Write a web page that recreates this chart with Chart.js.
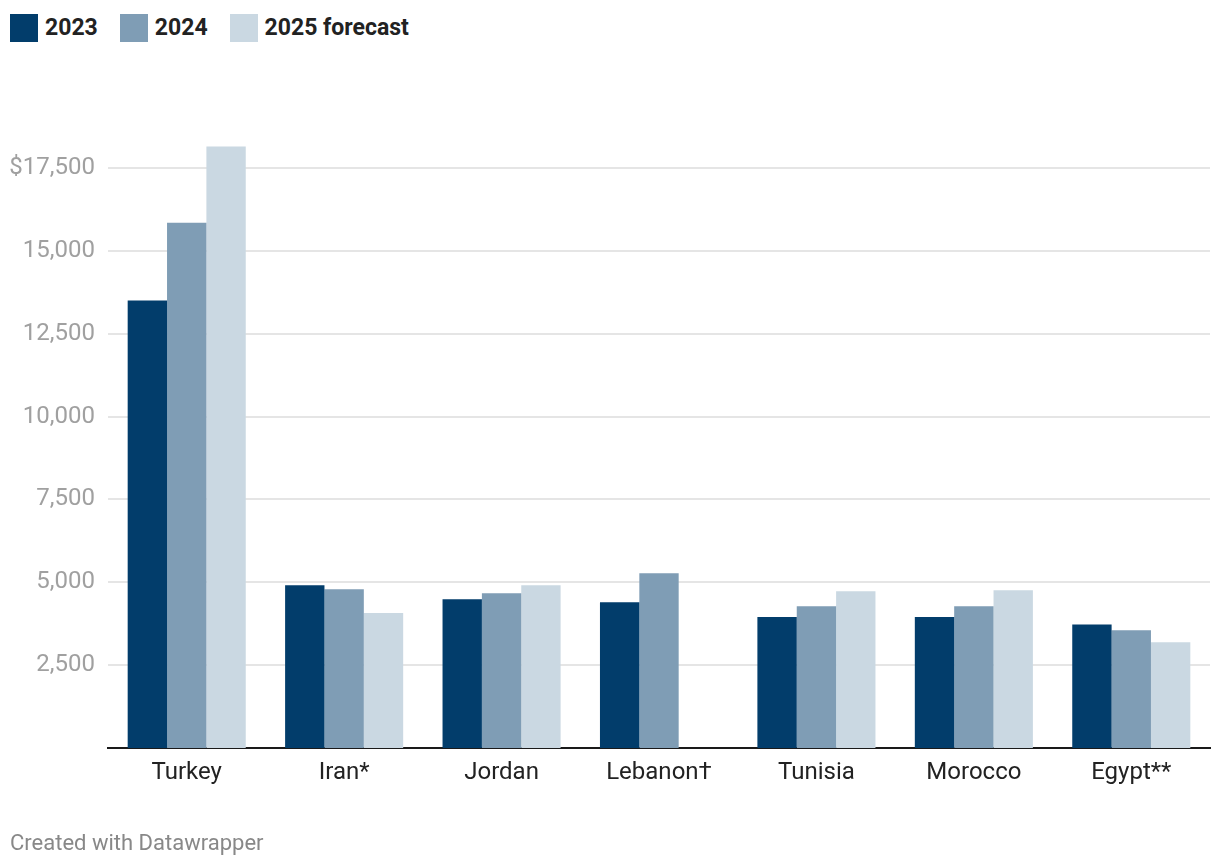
<!DOCTYPE html>
<html>
<head>
<meta charset="utf-8">
<script src="https://cdn.jsdelivr.net/npm/chart.js@4"></script>
<style>
  html, body { margin: 0; padding: 0; background: #fff; }
  body { width: 1220px; height: 868px; position: relative; overflow: hidden; font-family: Roboto, sans-serif; }
  #legend { position: absolute; left: 10px; top: 14px; display: flex; align-items: center; font-weight: 700; font-size: 23px; color: #222; line-height: 28px; }
  .item { display: flex; align-items: center; margin-right: 22px; }
  .sw { width: 28px; height: 28px; margin-right: 7px; }
  #footer { position: absolute; left: 10px; top: 830px; font-size: 22px; color: #888; }
  #wrap { position: absolute; left: 0; top: 0; width: 1220px; height: 868px; }
</style>
</head>
<body>
<div id="legend"></div>
<div id="wrap"><canvas id="c"></canvas></div>
<div id="footer">Created with Datawrapper</div>
<script>
const categories = ["Turkey", "Iran*", "Jordan", "Lebanon†", "Tunisia", "Morocco", "Egypt**"];
const seriesNames = ["2023", "2024", "2025 forecast"];
const values2023 = [13500, 4910, 4490, 4400, 3950, 3950, 3730];
const values2024 = [15850, 4790, 4670, 5270, 4280, 4280, 3550];
const values2025 = [18150, 4070, 4910, null, 4730, 4760, 3190];
const yTicks = [2500, 5000, 7500, 10000, 12500, 15000, 17500];
const colors = ["#023d6b", "#7f9db5", "#cad8e2"];

const legend = document.getElementById('legend');
seriesNames.forEach((n, i) => {
  const d = document.createElement('div');
  d.className = 'item';
  d.innerHTML = '<span class="sw" style="background:' + colors[i] + '"></span><span>' + n + '</span>';
  legend.appendChild(d);
});

const allSeries = [values2023, values2024, values2025];
new Chart(document.getElementById('c'), {
  type: 'bar',
  data: {
    labels: categories,
    datasets: allSeries.map((v, i) => ({
      label: seriesNames[i],
      data: v,
      backgroundColor: colors[i],
      borderWidth: 0,
      categoryPercentage: 0.75,
      barPercentage: 1.0
    }))
  },
  options: {
    responsive: true,
    maintainAspectRatio: false,
    animation: false,
    layout: { padding: { top: 144, right: 10, bottom: 80, left: 0 } },
    plugins: { legend: { display: false }, tooltip: { enabled: false } },
    scales: {
      x: {
        grid: { display: false },
        border: { display: true, color: '#1a1a1a', width: 2 },
        ticks: { color: '#222', font: { family: 'Roboto', size: 24 }, padding: 3 },
        afterFit: s => { s.height = 40; }
      },
      y: {
        min: 0,
        max: 18224,
        z: 1,
        border: { display: false },
        grid: { color: 'rgba(0,0,0,0.1)', lineWidth: 2, drawTicks: false },
        ticks: {
          color: '#a0a0a0',
          font: { family: 'Roboto', size: 24 },
          padding: 13,
          callback: v => v === 17500 ? '$17,500' : v.toLocaleString('en-US')
        },
        afterBuildTicks: s => { s.ticks = yTicks.map(v => ({ value: v })); },
        afterFit: s => { s.width = 108; }
      }
    }
  }
});
</script>
</body>
</html>
